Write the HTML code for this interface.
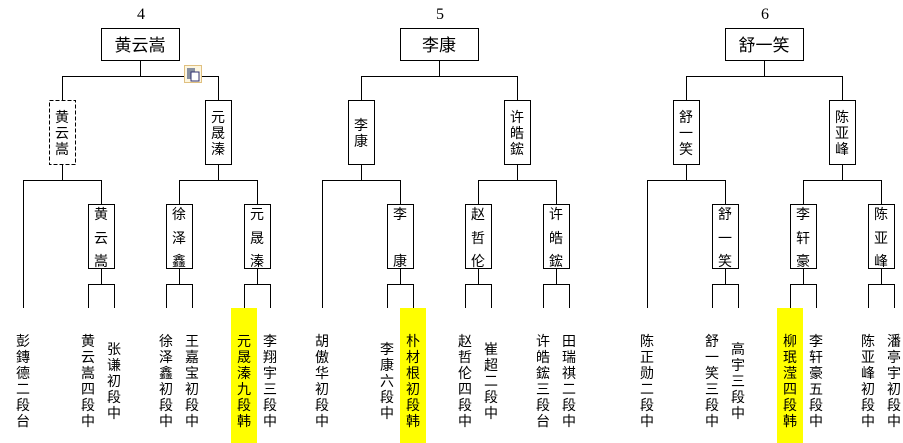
<!DOCTYPE html>
<html><head><meta charset="utf-8"><style>
html,body{margin:0;padding:0;background:#fff;width:903px;height:443px;overflow:hidden}
svg{display:block}
text{font-family:"Liberation Sans","WenQuanYi Zen Hei","Noto Sans CJK SC",sans-serif;font-size:14px;fill:#000;text-anchor:middle}
.n{font-family:"Liberation Serif",serif;font-size:16px}
.t{font-size:17px}
</style></head><body>
<svg width="903" height="443" viewBox="0 0 903 443" xmlns="http://www.w3.org/2000/svg">
<rect x="231" y="308" width="26" height="135" fill="#ffff00"/>
<rect x="400" y="308" width="26" height="135" fill="#ffff00"/>
<rect x="777" y="308" width="26" height="135" fill="#ffff00"/>
<defs>
<g id="blk" fill="none" stroke="#000" stroke-width="1" shape-rendering="crispEdges">
<rect x="101.5" y="28.5" width="78" height="32" fill="#fff"/>
<path d="M140.5 60V76.5M62.5 76.5H218.5M62.5 76V100M218.5 76V100"/>
<rect x="205.5" y="100.5" width="26" height="64"/>
<path d="M62.5 164V180.5M23.5 180.5H101.5M23.5 180V308M101.5 180V204M218.5 164V180.5M179.5 180.5H257.5M179.5 180V204M257.5 180V204"/>
<rect x="88.5" y="204.5" width="26" height="64"/>
<rect x="166.5" y="204.5" width="26" height="64"/>
<rect x="244.5" y="204.5" width="26" height="64"/>
<path d="M101.5 268V284.5M88.5 284.5H114.5M88.5 284V308M114.5 284V308M179.5 268V284.5M166.5 284.5H192.5M166.5 284V308M192.5 284V308M257.5 268V284.5M244.5 284.5H270.5M244.5 284V308M270.5 284V308"/>
</g>
</defs>
<use href="#blk"/>
<use href="#blk" x="299"/>
<use href="#blk" x="624"/>
<rect x="49.5" y="100.5" width="26" height="64" fill="none" stroke="#000" stroke-dasharray="4,2" shape-rendering="crispEdges"/>
<rect x="348.5" y="100.5" width="26" height="64" fill="none" stroke="#000" shape-rendering="crispEdges"/>
<rect x="673.5" y="100.5" width="26" height="64" fill="none" stroke="#000" shape-rendering="crispEdges"/>
<!-- clipboard icon -->
<rect x="184.5" y="65.5" width="17" height="17" fill="#fdf6e0" stroke="#e0c080"/>
<rect x="187" y="68" width="8" height="11" fill="#8890a0"/>
<rect x="191" y="72" width="8" height="9" fill="#fff" stroke="#303070"/>

<text class="n" x="141" y="19">4</text>
<text class="n" x="440" y="19">5</text>
<text class="n" x="765" y="19">6</text>
<text class="t" x="140" y="51">黄云嵩</text>
<text class="t" x="439" y="51">李康</text>
<text class="t" x="764" y="51">舒一笑</text>

<!-- R2 boxes -->
<text x="62" y="122">黄</text><text x="62" y="138">云</text><text x="62" y="154">嵩</text>
<text x="218" y="122">元</text><text x="218" y="138">晟</text><text x="218" y="154">溱</text>
<text x="361" y="130">李</text><text x="361" y="146">康</text>
<text x="517" y="122">许</text><text x="517" y="138">皓</text><text x="517" y="154">鋐</text>
<text x="686" y="122">舒</text><text x="686" y="138">一</text><text x="686" y="154">笑</text>
<text x="842" y="122">陈</text><text x="842" y="138">亚</text><text x="842" y="154">峰</text>

<!-- R1 boxes -->
<text x="101" y="219">黄</text><text x="101" y="243">云</text><text x="101" y="266">嵩</text>
<text x="179" y="219">徐</text><text x="179" y="243">泽</text><text x="179" y="266">鑫</text>
<text x="257" y="219">元</text><text x="257" y="243">晟</text><text x="257" y="266">溱</text>
<text x="400" y="219">李</text><text x="400" y="266">康</text>
<text x="478" y="219">赵</text><text x="478" y="243">哲</text><text x="478" y="266">伦</text>
<text x="556" y="219">许</text><text x="556" y="243">皓</text><text x="556" y="266">鋐</text>
<text x="725" y="219">舒</text><text x="725" y="243">一</text><text x="725" y="266">笑</text>
<text x="803" y="219">李</text><text x="803" y="243">轩</text><text x="803" y="266">豪</text>
<text x="881" y="219">陈</text><text x="881" y="243">亚</text><text x="881" y="266">峰</text>

<!-- bottom columns -->
<text y="346"><tspan x="23">彭</tspan><tspan x="23" dy="16">鏄</tspan><tspan x="23" dy="16">德</tspan><tspan x="23" dy="16">二</tspan><tspan x="23" dy="16">段</tspan><tspan x="23" dy="16">台</tspan></text>
<text y="346"><tspan x="88">黄</tspan><tspan x="88" dy="16">云</tspan><tspan x="88" dy="16">嵩</tspan><tspan x="88" dy="16">四</tspan><tspan x="88" dy="16">段</tspan><tspan x="88" dy="16">中</tspan></text>
<text y="354"><tspan x="114">张</tspan><tspan x="114" dy="16">谦</tspan><tspan x="114" dy="16">初</tspan><tspan x="114" dy="16">段</tspan><tspan x="114" dy="16">中</tspan></text>
<text y="346"><tspan x="166">徐</tspan><tspan x="166" dy="16">泽</tspan><tspan x="166" dy="16">鑫</tspan><tspan x="166" dy="16">初</tspan><tspan x="166" dy="16">段</tspan><tspan x="166" dy="16">中</tspan></text>
<text y="346"><tspan x="192">王</tspan><tspan x="192" dy="16">嘉</tspan><tspan x="192" dy="16">宝</tspan><tspan x="192" dy="16">初</tspan><tspan x="192" dy="16">段</tspan><tspan x="192" dy="16">中</tspan></text>
<text y="346"><tspan x="244">元</tspan><tspan x="244" dy="16">晟</tspan><tspan x="244" dy="16">溱</tspan><tspan x="244" dy="16">九</tspan><tspan x="244" dy="16">段</tspan><tspan x="244" dy="16">韩</tspan></text>
<text y="346"><tspan x="270">李</tspan><tspan x="270" dy="16">翔</tspan><tspan x="270" dy="16">宇</tspan><tspan x="270" dy="16">三</tspan><tspan x="270" dy="16">段</tspan><tspan x="270" dy="16">中</tspan></text>

<text y="346"><tspan x="322">胡</tspan><tspan x="322" dy="16">傲</tspan><tspan x="322" dy="16">华</tspan><tspan x="322" dy="16">初</tspan><tspan x="322" dy="16">段</tspan><tspan x="322" dy="16">中</tspan></text>
<text y="354"><tspan x="387">李</tspan><tspan x="387" dy="16">康</tspan><tspan x="387" dy="16">六</tspan><tspan x="387" dy="16">段</tspan><tspan x="387" dy="16">中</tspan></text>
<text y="346"><tspan x="413">朴</tspan><tspan x="413" dy="16">材</tspan><tspan x="413" dy="16">根</tspan><tspan x="413" dy="16">初</tspan><tspan x="413" dy="16">段</tspan><tspan x="413" dy="16">韩</tspan></text>
<text y="346"><tspan x="465">赵</tspan><tspan x="465" dy="16">哲</tspan><tspan x="465" dy="16">伦</tspan><tspan x="465" dy="16">四</tspan><tspan x="465" dy="16">段</tspan><tspan x="465" dy="16">中</tspan></text>
<text y="354"><tspan x="491">崔</tspan><tspan x="491" dy="16">超</tspan><tspan x="491" dy="16">二</tspan><tspan x="491" dy="16">段</tspan><tspan x="491" dy="16">中</tspan></text>
<text y="346"><tspan x="543">许</tspan><tspan x="543" dy="16">皓</tspan><tspan x="543" dy="16">鋐</tspan><tspan x="543" dy="16">三</tspan><tspan x="543" dy="16">段</tspan><tspan x="543" dy="16">台</tspan></text>
<text y="346"><tspan x="569">田</tspan><tspan x="569" dy="16">瑞</tspan><tspan x="569" dy="16">祺</tspan><tspan x="569" dy="16">二</tspan><tspan x="569" dy="16">段</tspan><tspan x="569" dy="16">中</tspan></text>

<text y="346"><tspan x="647">陈</tspan><tspan x="647" dy="16">正</tspan><tspan x="647" dy="16">勋</tspan><tspan x="647" dy="16">二</tspan><tspan x="647" dy="16">段</tspan><tspan x="647" dy="16">中</tspan></text>
<text y="346"><tspan x="712">舒</tspan><tspan x="712" dy="16">一</tspan><tspan x="712" dy="16">笑</tspan><tspan x="712" dy="16">三</tspan><tspan x="712" dy="16">段</tspan><tspan x="712" dy="16">中</tspan></text>
<text y="354"><tspan x="738">高</tspan><tspan x="738" dy="16">宇</tspan><tspan x="738" dy="16">三</tspan><tspan x="738" dy="16">段</tspan><tspan x="738" dy="16">中</tspan></text>
<text y="346"><tspan x="790">柳</tspan><tspan x="790" dy="16">珉</tspan><tspan x="790" dy="16">滢</tspan><tspan x="790" dy="16">四</tspan><tspan x="790" dy="16">段</tspan><tspan x="790" dy="16">韩</tspan></text>
<text y="346"><tspan x="816">李</tspan><tspan x="816" dy="16">轩</tspan><tspan x="816" dy="16">豪</tspan><tspan x="816" dy="16">五</tspan><tspan x="816" dy="16">段</tspan><tspan x="816" dy="16">中</tspan></text>
<text y="346"><tspan x="868">陈</tspan><tspan x="868" dy="16">亚</tspan><tspan x="868" dy="16">峰</tspan><tspan x="868" dy="16">初</tspan><tspan x="868" dy="16">段</tspan><tspan x="868" dy="16">中</tspan></text>
<text y="346"><tspan x="894">潘</tspan><tspan x="894" dy="16">亭</tspan><tspan x="894" dy="16">宇</tspan><tspan x="894" dy="16">初</tspan><tspan x="894" dy="16">段</tspan><tspan x="894" dy="16">中</tspan></text>
</svg>
</body></html>
